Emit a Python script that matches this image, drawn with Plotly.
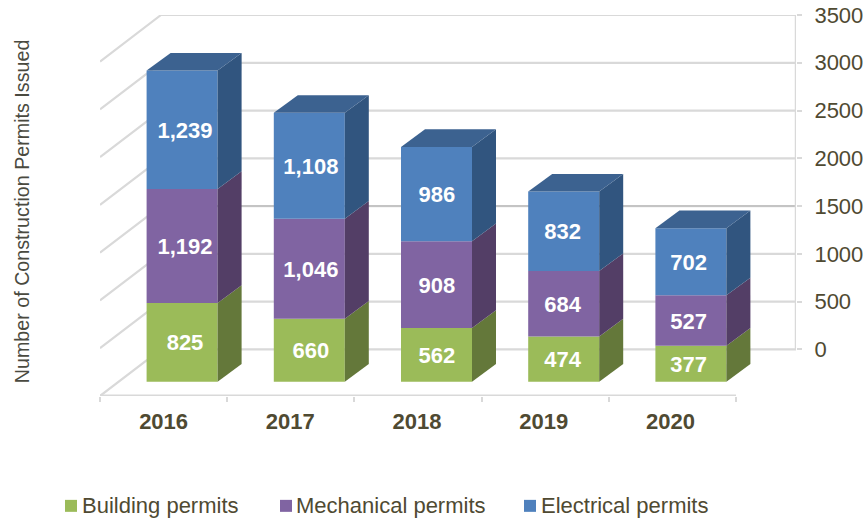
import plotly.graph_objects as go

years = ["2016", "2017", "2018", "2019", "2020"]
building = [825, 660, 562, 474, 377]
mechanical = [1192, 1046, 908, 684, 527]
electrical = [1239, 1108, 986, 832, 702]
y_ticks = [0, 500, 1000, 1500, 2000, 2500, 3000, 3500]

series = [
    ("Building permits", building, "#9BBB59", "#64783A"),
    ("Mechanical permits", mechanical, "#8064A2", "#533E66"),
    ("Electrical permits", electrical, "#4F81BD", "#31557F"),
]
TOP_FACE = "#3C6290"
WALL = "#D9D9D9"
WALL_DARK = "#BDBDBD"
TEXT = "#4F4A32"
FONT = "Liberation Sans, Arial, sans-serif"

# pseudo-3D projection, in axis units
PLOT_L, PLOT_R, PLOT_T, PLOT_B = 100, 796, 14.5, 396
PITCH = 127.2
UNIT = (349.4 - PLOT_T) / 3500
X_MAX = (PLOT_R - PLOT_L) / PITCH
FLOOR = -(PLOT_B - 349.4) / UNIT
WALL_DX = 61 / PITCH
BAR_ZERO = -32.3 / UNIT
BAR_W = 71 / PITCH
BAR_DX = 24 / PITCH
BAR_DY = 17.7 / UNIT
BAR_SHIFT = 18.5 / PITCH
TICK_LABEL_STEP = 126.7 / PITCH
VALUE_LABEL_X0 = (185 - PLOT_L) / PITCH
VALUE_LABEL_STEP = 125.9 / PITCH
VALUE_LABEL_DROP = 2.5 / UNIT

xs = [i + 0.5 + BAR_SHIFT for i in range(len(years))]
label_xs = [VALUE_LABEL_X0 + i * VALUE_LABEL_STEP for i in range(len(years))]

fig = go.Figure()

# back wall, left wall
gx, gy = [], []
for v in y_ticks:
    gx += [0, WALL_DX, X_MAX, None]
    gy += [v + FLOOR, v, v, None]
fig.add_trace(go.Scatter(x=gx, y=gy, mode="lines", line=dict(color=WALL, width=2.2),
                         showlegend=False, hoverinfo="skip", cliponaxis=False))
fig.add_trace(go.Scatter(x=[WALL_DX, X_MAX], y=[y_ticks[3], y_ticks[3]], mode="lines",
                         line=dict(color=WALL_DARK, width=1.5), showlegend=False,
                         hoverinfo="skip", cliponaxis=False))
fig.add_trace(go.Scatter(x=[X_MAX, X_MAX], y=[y_ticks[0], y_ticks[-1]], mode="lines",
                         line=dict(color=WALL, width=2.5), showlegend=False,
                         hoverinfo="skip", cliponaxis=False))
fig.add_trace(go.Scatter(x=[0, len(years)], y=[FLOOR, FLOOR], mode="lines",
                         line=dict(color=WALL, width=3), showlegend=False,
                         hoverinfo="skip", cliponaxis=False))

# stacked blocks
bases = [BAR_ZERO] * len(years)
labels = []
for name, values, color, dark in series:
    fig.add_trace(go.Bar(
        x=xs, y=values, base=list(bases), width=BAR_W, name=name, showlegend=False,
        marker=dict(color=color, line=dict(width=0)),
        xaxis="x2", yaxis="y2",
    ))
    for x, b, v in zip(xs, bases, values):
        r = x + BAR_W / 2
        fig.add_trace(go.Scatter(
            x=[r, r + BAR_DX, r + BAR_DX, r, r],
            y=[b, b + BAR_DY, b + v + BAR_DY, b + v, b],
            mode="lines", fill="toself", fillcolor=dark, line=dict(width=0),
            showlegend=False, hoverinfo="skip", xaxis="x2", yaxis="y2",
        ))
    labels.append(([b + v / 2 - VALUE_LABEL_DROP for b, v in zip(bases, values)],
                   [f"{v:,}" for v in values]))
    bases = [b + v for b, v in zip(bases, values)]

for x, t in zip(xs, bases):
    l, r = x - BAR_W / 2, x + BAR_W / 2
    fig.add_trace(go.Scatter(
        x=[l, r, r + BAR_DX, l + BAR_DX, l],
        y=[t, t, t + BAR_DY, t + BAR_DY, t],
        mode="lines", fill="toself", fillcolor=TOP_FACE, line=dict(width=0),
        showlegend=False, hoverinfo="skip", xaxis="x2", yaxis="y2",
    ))

for mids, texts in labels:
    fig.add_trace(go.Scatter(
        x=label_xs, y=mids, text=texts, mode="text", textposition="middle center",
        textfont=dict(family=FONT, size=22, color="white", weight="bold"),
        showlegend=False, hoverinfo="skip", xaxis="x2", yaxis="y2",
    ))

W, H = 867, 521
LEGEND_SWATCH_X = [65, 280, 524]
LEGEND_TEXT_X = [82, 296, 541]
LEGEND_Y = 506
SW = 12

shapes, annotations = [], []
for (name, _, color, _), sx, tx in zip(series, LEGEND_SWATCH_X, LEGEND_TEXT_X):
    shapes.append(dict(type="rect", xref="paper", yref="paper", layer="above",
                       x0=(sx - PLOT_L) / (PLOT_R - PLOT_L), x1=(sx + SW - PLOT_L) / (PLOT_R - PLOT_L),
                       y0=(PLOT_B - LEGEND_Y - SW / 2) / (PLOT_B - PLOT_T),
                       y1=(PLOT_B - LEGEND_Y + SW / 2) / (PLOT_B - PLOT_T),
                       fillcolor=color, line=dict(width=0)))
    annotations.append(dict(text=name, showarrow=False, xref="paper", yref="paper",
                            x=(tx - PLOT_L) / (PLOT_R - PLOT_L),
                            y=(PLOT_B - LEGEND_Y) / (PLOT_B - PLOT_T),
                            xanchor="left", yanchor="middle", xshift=-2,
                            font=dict(family=FONT, size=22, color=TEXT)))
annotations.append(dict(text="Number of Construction Permits Issued", textangle=-90, showarrow=False,
                        xref="paper", yref="paper", x=(22 - PLOT_L) / (PLOT_R - PLOT_L),
                        y=(PLOT_B - 211) / (PLOT_B - PLOT_T), xanchor="center", yanchor="middle",
                        font=dict(family=FONT, size=19.7, color="#4A4A40")))

fig.update_layout(
    width=W, height=H, autosize=False, showlegend=False, barmode="overlay",
    paper_bgcolor="white", plot_bgcolor="white",
    margin=dict(l=PLOT_L, r=W - PLOT_R, t=PLOT_T, b=H - PLOT_B, autoexpand=False),
    font=dict(family=FONT, color=TEXT),
    xaxis=dict(range=[0, X_MAX], tickvals=[0.5 + i * TICK_LABEL_STEP for i in range(len(years))], ticktext=years,
               showgrid=False, zeroline=False, showline=False, ticks="",
               tickfont=dict(family=FONT, size=22, color=TEXT, weight="bold"),
               ticklabelstandoff=10,
               minor=dict(tickvals=list(range(len(years) + 1)), ticks="outside", ticklen=5,
                          tickwidth=1.5, tickcolor=WALL, showgrid=False)),
    yaxis=dict(range=[FLOOR, 3500], side="right", tickvals=y_ticks, tickformat="d",
               showgrid=False, zeroline=False, showline=False, ticks="outside", ticklen=5,
               tickwidth=1.5, tickcolor=WALL, ticklabelstandoff=8,
               tickfont=dict(family=FONT, size=22, color=TEXT)),
    xaxis2=dict(range=[0, X_MAX], overlaying="x", visible=False, matches="x"),
    yaxis2=dict(range=[FLOOR, 3500], overlaying="y", visible=False, matches="y"),
    shapes=shapes, annotations=annotations,
)

fig.write_html("out.html", config=dict(displayModeBar=False),
               post_script="document.body.style.margin='0';document.documentElement.style.overflow='hidden';")
